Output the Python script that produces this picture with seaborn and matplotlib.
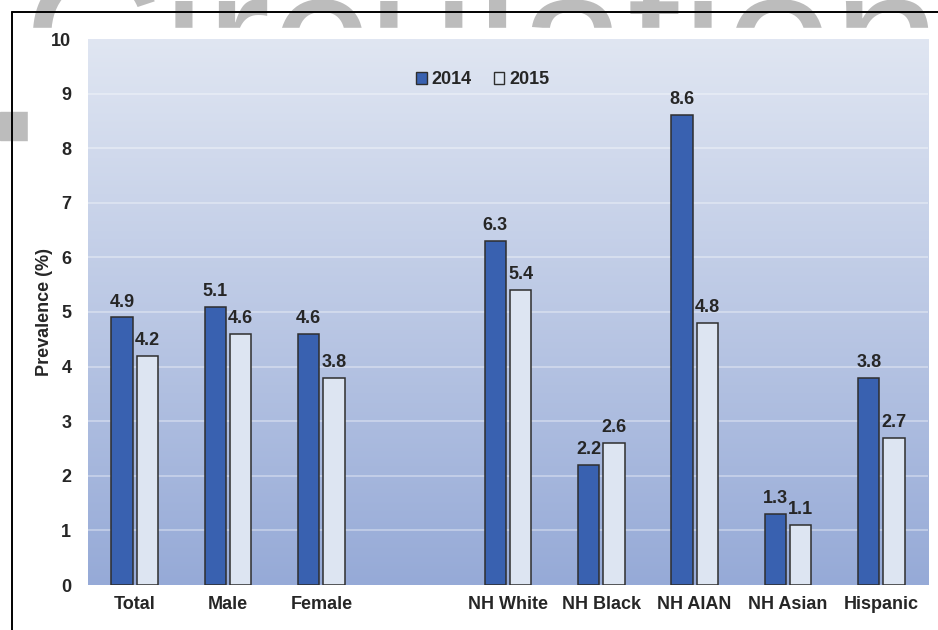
import numpy as np
import pandas as pd
import matplotlib
matplotlib.use("Agg")
import matplotlib.pyplot as plt
from matplotlib.patches import Rectangle, Patch
from matplotlib.lines import Line2D
import seaborn as sns

groups = ["Total", "Male", "Female", "", "NH White", "NH Black", "NH AIAN", "NH Asian", "Hispanic"]
data_groups = ["Total", "Male", "Female", "NH White", "NH Black", "NH AIAN", "NH Asian", "Hispanic"]
v2014 = [4.9, 5.1, 4.6, 6.3, 2.2, 8.6, 1.3, 3.8]
v2015 = [4.2, 4.6, 3.8, 5.4, 2.6, 4.8, 1.1, 2.7]
years = ["2014", "2015"]
yticks = list(range(0, 11))

df = pd.DataFrame({
    "group": data_groups * 2,
    "year": [years[0]] * len(v2014) + [years[1]] * len(v2015),
    "value": v2014 + v2015,
})

sns.set_style("white")
plt.rcParams["font.family"] = ["Liberation Sans", "DejaVu Sans"]
plt.rcParams["font.weight"] = "bold"

W, H = 938, 630
fig = plt.figure(figsize=(W / 100, H / 100), dpi=100)
fig.patch.set_facecolor("white")

# page watermark behind the chart box
fig.text(22 / W, 1 - 104 / H, "Circulation", fontsize=140, color="#bcbcbc",
         fontweight="normal", va="baseline", ha="left", zorder=-3)
fig.add_artist(Rectangle((0, 1 - 140 / H), 28 / W, 28 / H, transform=fig.transFigure,
                         color="#bcbcbc", zorder=-3))
fig.add_artist(Rectangle((28 / W, 0), (935 - 28) / W, 1 - 28 / H, transform=fig.transFigure,
                         color="white", zorder=-1))
fig.add_artist(Line2D([12 / W, 1], [1 - 12 / H] * 2, color="black", lw=1.4, zorder=-0.5))
fig.add_artist(Line2D([12 / W] * 2, [0, 1 - 12 / H], color="black", lw=1.4, zorder=-0.5))

ax = fig.add_axes([88 / W, 1 - 585 / H, (928 - 88) / W, (585 - 39) / H])
ax.set_facecolor("none")

dark = "#3961b0"
light = "#dde5f2"
sns.barplot(data=df, x="group", y="value", hue="year", order=groups, hue_order=years,
            palette=[dark, light], saturation=1, width=0.54, gap=0.16, edgecolor="#2e2e2e",
            linewidth=1.1, ax=ax, legend=False, zorder=3)

for c in ax.containers:
    ax.bar_label(c, fmt="%.1f", padding=5, fontsize=13, fontweight="bold")

# gradient plot area
top = np.array([224, 230, 242]) / 255
bot = np.array([150, 170, 215]) / 255
t = np.linspace(0, 1, 256)[:, None]
grad = (top * (1 - t) + bot * t)[:, None, :]
ax.imshow(grad, extent=(0, 1, 0, 1), transform=ax.transAxes, aspect="auto", zorder=0)

for y in yticks[1:-1]:
    ax.axhline(y, color="white", alpha=0.4, lw=1.2, zorder=1)

ax.set_xlim(-0.5, len(groups) - 0.5)
ax.set_ylim(0, 10)
ax.set_yticks(yticks)
ax.tick_params(axis="y", length=0, pad=12, labelsize=13)
ax.tick_params(axis="x", length=0, pad=8, labelsize=13)
for lab in ax.get_xticklabels() + ax.get_yticklabels():
    lab.set_fontweight("bold")
ax.set_xlabel("")
ax.set_ylabel("Prevalence (%)", fontsize=13, fontweight="bold", labelpad=-1)
for s in ax.spines.values():
    s.set_visible(False)

handles = [Patch(facecolor=dark, edgecolor="#2e2e2e", lw=1.0),
           Patch(facecolor=light, edgecolor="#2e2e2e", lw=1.0)]
ax.legend(handles, years, loc="center", bbox_to_anchor=(0.47, 0.925), ncol=2,
          frameon=False, handlelength=0.6, handleheight=0.6, handletextpad=0.25,
          columnspacing=1.2, prop={"size": 13, "weight": "bold"})

fig.savefig("out.png", dpi=100)
